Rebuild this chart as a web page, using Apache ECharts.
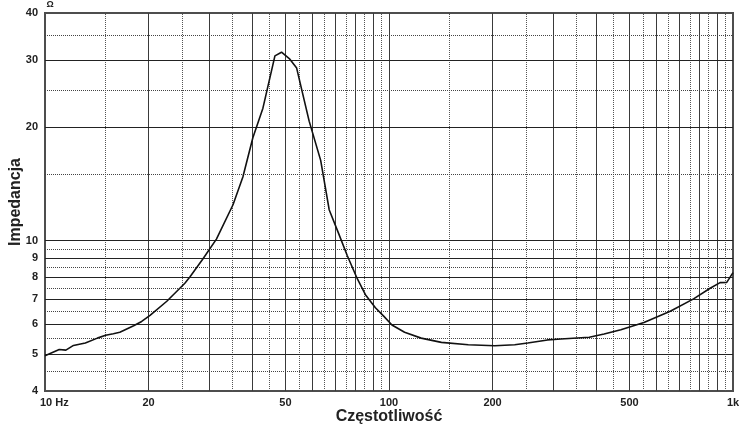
<!DOCTYPE html>
<html><head><meta charset="utf-8">
<script src="https://cdn.jsdelivr.net/npm/echarts@6/dist/echarts.min.js"></script>
<style>html,body{margin:0;padding:0;background:#fff}#c{width:739px;height:430px}</style>
</head><body><div id="c"></div>
<script>
const frequencyHz = [10, 11.0, 11.5, 12.1, 13.1, 14.2, 15.0, 15.8, 16.5, 18.1, 19.1, 20.2, 22.6, 25.5, 26.4, 28.8, 31.5, 35.2, 37.6, 40.2, 43.0, 46.6, 48.7, 51.3, 53.9, 55.4, 58.6, 63.3, 67.0, 71.5, 75.6, 80.8, 85.4, 91.3, 96.5, 102, 111, 124, 142, 170, 203, 232, 253, 289, 316, 382, 422, 472, 551, 657, 768, 858, 917, 959, 1000];
const impedanceOhm = [4.96, 5.15, 5.13, 5.28, 5.36, 5.52, 5.62, 5.67, 5.72, 5.95, 6.11, 6.34, 6.91, 7.71, 8.02, 8.95, 10.09, 12.44, 14.73, 18.7, 22.4, 30.8, 31.5, 30.3, 28.6, 25.7, 20.7, 16.3, 12.07, 10.4, 9.13, 7.94, 7.19, 6.64, 6.31, 5.98, 5.72, 5.52, 5.38, 5.30, 5.27, 5.30, 5.36, 5.46, 5.49, 5.55, 5.66, 5.81, 6.07, 6.50, 7.01, 7.48, 7.74, 7.75, 8.23];
const xSolidGrid = [20, 30, 40, 50, 60, 70, 80, 90, 100, 200, 300, 400, 500, 600, 700, 800, 900];
const xDottedGrid = [15, 25, 35, 45, 55, 65, 75, 85, 95, 150, 250, 350, 450, 550, 650, 750, 850, 950];
const ySolidGrid = [5, 6, 7, 8, 9, 10, 20, 30];
const yDottedGrid = [4.5, 5.5, 6.5, 7.5, 8.5, 9.5, 15, 25, 35];
const xTickLabels = [[10, '10 Hz'], [20, '20'], [50, '50'], [100, '100'], [200, '200'], [500, '500'], [1000, '1k']];
const yTickLabels = [40, 30, 20, 10, 9, 8, 7, 6, 5, 4];
const unitLabel = 'Ω';
const xName = 'Częstotliwość';
const yName = 'Impedancja';

(function () {
const FONT = 'Arial, "Liberation Sans", Helvetica, sans-serif';
const chart = echarts.init(document.getElementById('c'), null, {renderer: 'canvas'});

const gridLines = [];
xSolidGrid.forEach(v => gridLines.push({xAxis: v, lineStyle: {type: 'solid', color: '#3a3a3a', width: 1}}));
xDottedGrid.forEach(v => gridLines.push({xAxis: v, lineStyle: {type: [1, 1], color: '#555', width: 1}}));
ySolidGrid.forEach(v => gridLines.push({yAxis: v, lineStyle: {type: 'solid', color: '#222', width: 1}}));
yDottedGrid.forEach(v => gridLines.push({yAxis: v, lineStyle: {type: [1, 1], color: '#444', width: 1}}));

chart.setOption({
  animation: false,
  backgroundColor: '#fff',
  grid: {left: 41, right: 6, top: 13, bottom: 34, show: true, borderColor: '#4d4d4d', borderWidth: 2, backgroundColor: 'transparent'},
  xAxis: {
    type: 'log', logBase: 10, min: 10, max: 1000,
    name: xName, nameLocation: 'middle', nameGap: 18,
    nameTextStyle: {fontFamily: FONT, fontWeight: 'bold', fontSize: 16, color: '#222'},
    axisLine: {show: true, lineStyle: {color: '#4d4d4d', width: 2}},
    axisTick: {show: false}, axisLabel: {show: false}, splitLine: {show: false}
  },
  yAxis: {
    type: 'log', logBase: 10, min: 4, max: 40,
    name: yName, nameLocation: 'middle', nameGap: 21,
    nameTextStyle: {fontFamily: FONT, fontWeight: 'bold', fontSize: 16, color: '#222'},
    axisLine: {show: true, lineStyle: {color: '#4d4d4d', width: 2}},
    axisTick: {show: false}, axisLabel: {show: false}, splitLine: {show: false}
  },
  series: [
    {
      type: 'line', data: [], z: 1, silent: true,
      markLine: {silent: true, symbol: 'none', animation: false, label: {show: false}, emphasis: {disabled: true}, data: gridLines}
    },
    {
      type: 'line', z: 5, showSymbol: false, smooth: false,
      data: frequencyHz.map((f, i) => [f, impedanceOhm[i]]),
      lineStyle: {color: '#111', width: 1.6}
    }
  ]
});

const texts = [];
xTickLabels.forEach(([v, t]) => {
  const p = chart.convertToPixel({gridIndex: 0}, [v, 4]);
  const first = v === 10;
  texts.push({type: 'text', x: first ? p[0] - 5 : p[0], y: p[1] + 12,
    style: {text: t, fill: '#222', font: 'bold 11px ' + FONT, textAlign: first ? 'left' : 'center', textVerticalAlign: 'middle'}});
});
yTickLabels.forEach(v => {
  const p = chart.convertToPixel({gridIndex: 0}, [10, v]);
  texts.push({type: 'text', x: p[0] - 7, y: p[1],
    style: {text: String(v), fill: '#222', font: 'bold 11px ' + FONT, textAlign: 'right', textVerticalAlign: 'middle'}});
});
const topPt = chart.convertToPixel({gridIndex: 0}, [10, 40]);
texts.push({type: 'text', x: topPt[0] + 5, y: topPt[1] - 8,
  style: {text: unitLabel, fill: '#222', font: 'bold 9px ' + FONT, textAlign: 'center', textVerticalAlign: 'middle'}});
chart.setOption({graphic: texts});
})();
</script>
</body></html>
